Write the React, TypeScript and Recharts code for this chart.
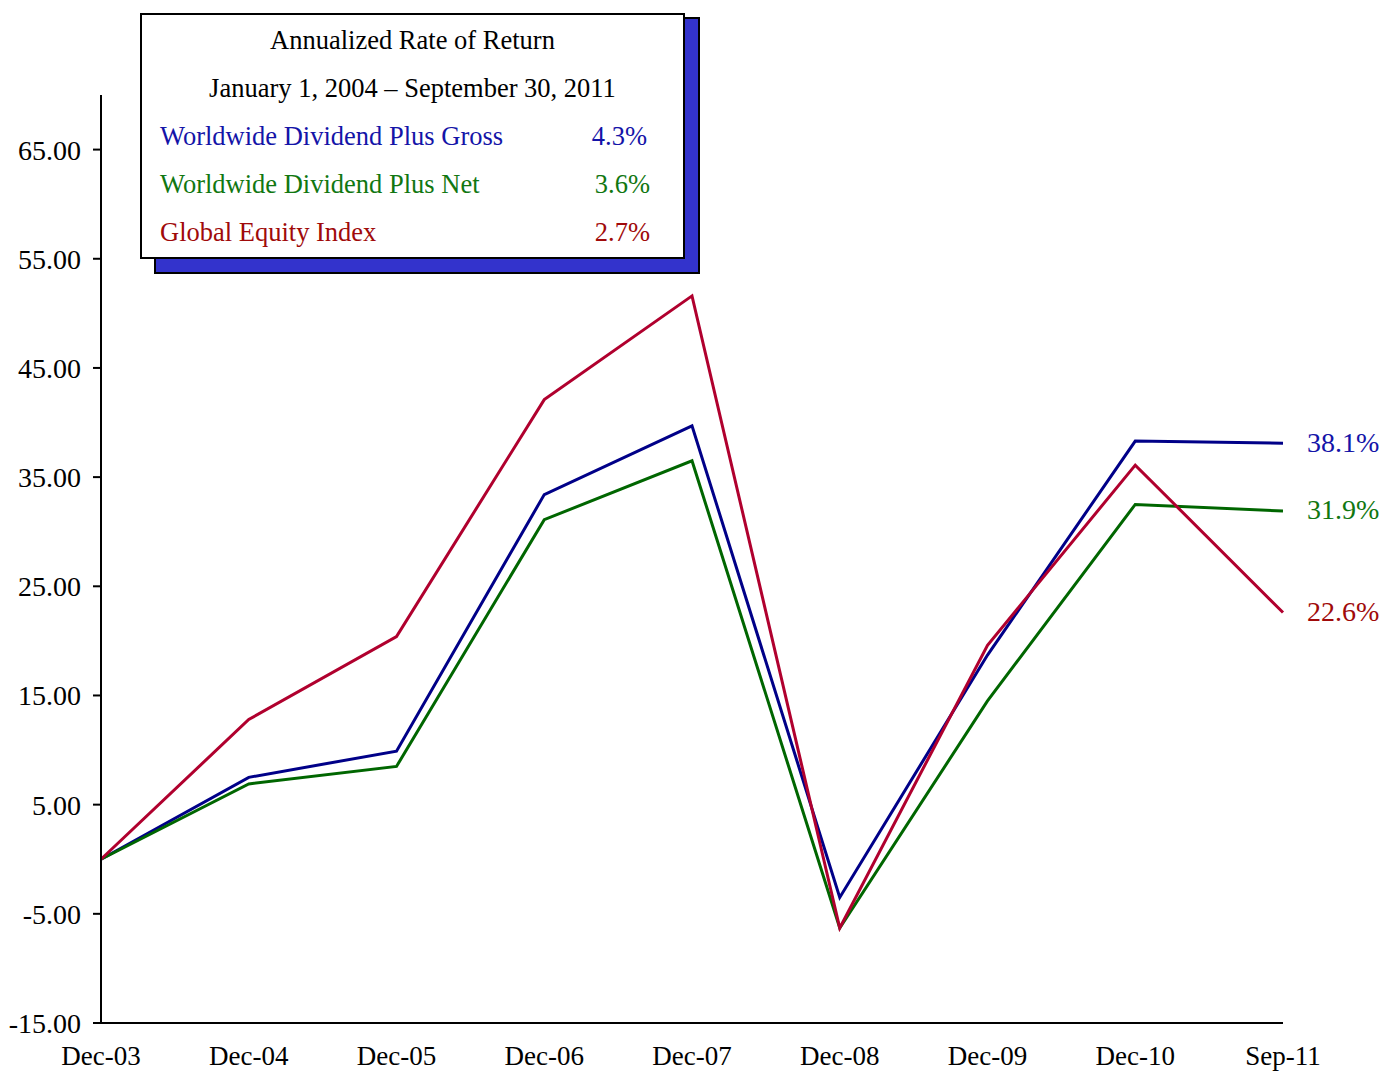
import React from "react";
import { LineChart, Line, XAxis, YAxis } from "recharts";

// カテゴリ（期末）
const periods = ["Dec-03", "Dec-04", "Dec-05", "Dec-06", "Dec-07", "Dec-08", "Dec-09", "Dec-10", "Sep-11"];

// 累積リターン (%)
const grossValues = [0, 7.5, 9.9, 33.4, 39.7, -3.5, 18.7, 38.3, 38.1];
const netValues = [0, 6.9, 8.5, 31.1, 36.5, -6.3, 14.5, 32.5, 31.9];
const indexValues = [0, 12.8, 20.4, 42.1, 51.6, -6.3, 19.6, 36.1, 22.6];

const yTicks = [-15, -5, 5, 15, 25, 35, 45, 55, 65];

// 凡例ボックスの内容
const legendTitle = "Annualized Rate of Return";
const legendPeriod = "January 1, 2004 \u2013 September 30, 2011";
const legendNames = ["Worldwide Dividend Plus Gross", "Worldwide Dividend Plus Net", "Global Equity Index"];
const legendRates = ["4.3%", "3.6%", "2.7%"];

const COLORS = {
  gross: "#000088",
  net: "#006600",
  index: "#B0002E",
  grossText: "#1414A8",
  netText: "#117711",
  indexText: "#A00A0A",
  shadow: "#3333CC",
};

const FONT = "'Liberation Serif', 'Times New Roman', serif";

const chartData = periods.map((p, i) => ({
  period: p,
  gross: grossValues[i],
  net: netValues[i],
  index: indexValues[i],
}));

// 最終点のラベル
function endLabel(color: string) {
  return (props: any) => {
    const { x, y, index, value } = props;
    if (index !== periods.length - 1) return null;
    return (
      <text
        x={x + 24}
        y={y - 1}
        fill={color}
        fontSize={28}
        fontFamily={FONT}
        dominantBaseline="central"
      >
        {value.toFixed(1)}%
      </text>
    );
  };
}

const legendColors = [COLORS.grossText, COLORS.netText, COLORS.indexText];

export default function App() {
  return (
    <div style={{ position: "relative", width: 1380, height: 1065, fontFamily: FONT }}>
      <LineChart
        width={1380}
        height={1065}
        data={chartData}
        margin={{ top: 87, right: 105, bottom: 5, left: 0 }}
      >
        <XAxis
          dataKey="period"
          stroke="#000"
          strokeWidth={2}
          tickLine={false}
          height={45}
          tick={{ fill: "#000", fontSize: 27, fontFamily: FONT }}
          tickMargin={17}
          interval={0}
        />
        <YAxis
          type="number"
          domain={[-15, 70]}
          ticks={yTicks}
          width={93}
          stroke="#000"
          strokeWidth={2}
          tickSize={8}
          tickMargin={12}
          tickFormatter={(v: number) => v.toFixed(2)}
          tick={{ fill: "#000", fontSize: 28, fontFamily: FONT }}
          allowDataOverflow
        />
        <Line
          dataKey="gross"
          stroke={COLORS.gross}
          strokeWidth={3}
          dot={false}
          isAnimationActive={false}
          label={endLabel(COLORS.grossText)}
        />
        <Line
          dataKey="net"
          stroke={COLORS.net}
          strokeWidth={3}
          dot={false}
          isAnimationActive={false}
          label={endLabel(COLORS.netText)}
        />
        <Line
          dataKey="index"
          stroke={COLORS.index}
          strokeWidth={3}
          dot={false}
          isAnimationActive={false}
          label={endLabel(COLORS.indexText)}
        />
      </LineChart>

      {/* 凡例ボックス（影付き） */}
      <div
        style={{
          position: "absolute",
          left: 146,
          top: 9,
          width: 546,
          height: 257,
          background: COLORS.shadow,
          border: "2px solid #000",
          boxSizing: "border-box",
        }}
      />
      <div
        style={{
          position: "absolute",
          left: 132,
          top: 5,
          width: 545,
          height: 246,
          background: "#fff",
          border: "2px solid #000",
          boxSizing: "border-box",
          fontFamily: FONT,
          fontSize: 26.5,
          lineHeight: "48px",
          paddingTop: 1,
        }}
      >
        <div style={{ textAlign: "center", height: 48 }}>{legendTitle}</div>
        <div style={{ textAlign: "center", height: 48 }}>{legendPeriod}</div>
        {legendNames.map((name, i) => (
          <div key={name} style={{ position: "relative", height: 48, color: legendColors[i] }}>
            <span style={{ position: "absolute", left: 18 }}>{name}</span>
            <span style={{ position: "absolute", right: 33 + (i === 0 ? 3 : 0) }}>{legendRates[i]}</span>
          </div>
        ))}
      </div>
    </div>
  );
}
